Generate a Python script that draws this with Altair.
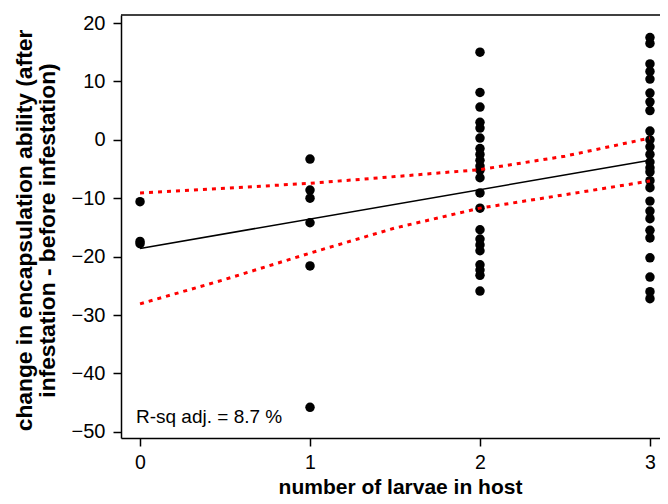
import altair as alt
import pandas as pd

# ---- data ----
larvae_0 = [-10.6, -17.4, -17.8]
larvae_1 = [-3.3, -8.6, -10.0, -14.2, -21.6, -45.8]
larvae_2 = [15.0, 8.1, 5.6, 3.0, 2.0, 0.3, -1.5, -2.5, -3.5, -4.5, -5.2, -6.5,
            -9.1, -11.7, -15.4, -17.0, -18.0, -19.0, -21.4, -22.3, -23.2, -25.9]
larvae_3 = [17.5, 16.5, 13.0, 11.7, 10.4, 8.0, 6.5, 5.0, 1.5, 0.0, -1.2, -2.5,
            -3.8, -4.8, -5.5, -7.0, -8.2, -10.5, -12.2, -13.5, -15.5, -16.8,
            -20.2, -23.5, -26.0, -27.2]

fit_x = [0, 3]
fit_y = [-18.6, -3.5]

ci_x = [0, 0.5, 1, 1.5, 2, 2.5, 3]
ci_upper = [-9.1, -8.3, -7.45, -6.3, -5.1, -2.8, 0.3]
ci_lower = [-28.1, -23.9, -19.4, -15.1, -11.7, -9.4, -7.05]

x_ticks = [0, 1, 2, 3]
y_ticks = [-50, -40, -30, -20, -10, 0, 10, 20]

annot_text = ["R-sq adj. = 8.7 %"]
annot_x = [-0.024]
annot_y = [-48.5]

# ---- tables ----
rows = []
for n, vals in enumerate([larvae_0, larvae_1, larvae_2, larvae_3]):
    for v in vals:
        rows.append({"larvae": n, "change": v})
pts = pd.DataFrame(rows)
fit = pd.DataFrame({"larvae": fit_x, "change": fit_y})
up = pd.DataFrame({"larvae": ci_x, "change": ci_upper})
lo = pd.DataFrame({"larvae": ci_x, "change": ci_lower})
ann = pd.DataFrame({"label": annot_text, "larvae": annot_x, "change": annot_y})

W, H = 539, 423
FONT = "Liberation Sans"

xs = alt.Scale(domain=[-0.112, 3.059], nice=False, zero=False)
ys = alt.Scale(domain=[-51.06, 21.37], nice=False, zero=False)

x_axis = alt.Axis(values=x_ticks, format="d", grid=False, tickSize=8,
                  labelPadding=7, labelFontSize=19.5,
                  title="number of larvae in host", titleFontSize=21,
                  titleFontWeight="bold", titleX=279, titleY=55,
                  titleAlign="center", titleBaseline="alphabetic")
y_axis = alt.Axis(values=y_ticks, grid=False, tickSize=8, labelPadding=8,
                  labelFontSize=20,
                  title=["change in encapsulation ability (after",
                         "infestation - before infestation)"],
                  titleFontSize=22.8, titleFontWeight="bold", titleAngle=270,
                  titleX=-90, titleY=215, titleAlign="center",
                  titleBaseline="alphabetic", titleLineHeight=23)

points = alt.Chart(pts).mark_circle(size=90, color="#000000", opacity=1).encode(
    x=alt.X("larvae:Q", scale=xs, axis=x_axis),
    y=alt.Y("change:Q", scale=ys, axis=y_axis),
)

fit_line = alt.Chart(fit).mark_line(color="#000000", strokeWidth=1.6).encode(
    x=alt.X("larvae:Q", scale=xs), y=alt.Y("change:Q", scale=ys))

upper = alt.Chart(up).mark_line(color="#ff0000", strokeWidth=3,
                                strokeDash=[4, 5]).encode(
    x=alt.X("larvae:Q", scale=xs), y=alt.Y("change:Q", scale=ys))
lower = alt.Chart(lo).mark_line(color="#ff0000", strokeWidth=3,
                                strokeDash=[4, 5]).encode(
    x=alt.X("larvae:Q", scale=xs), y=alt.Y("change:Q", scale=ys))

text = alt.Chart(ann).mark_text(align="left", baseline="alphabetic",
                                fontSize=19, font=FONT, color="#000000").encode(
    x=alt.X("larvae:Q", scale=xs), y=alt.Y("change:Q", scale=ys),
    text="label:N")

top_border = alt.Chart(ann).mark_rule(color="#000000", strokeWidth=1.5).encode(
    x=alt.value(0), x2=alt.value(W), y=alt.value(0))

chart = alt.layer(points, fit_line, upper, lower, text, top_border).properties(
    width=W, height=H,
    padding={"left": 113, "top": 7, "right": 0, "bottom": 58},
    autosize=alt.AutoSizeParams(type="none"),
).configure_view(stroke=None).configure_axis(
    labelFont=FONT, titleFont=FONT, labelColor="#000000", titleColor="#000000",
    domainColor="#000000", tickColor="#000000", domainWidth=1.5, tickWidth=1.5,
)

chart.save("out.html", embed_options={"renderer": "svg", "actions": False})
